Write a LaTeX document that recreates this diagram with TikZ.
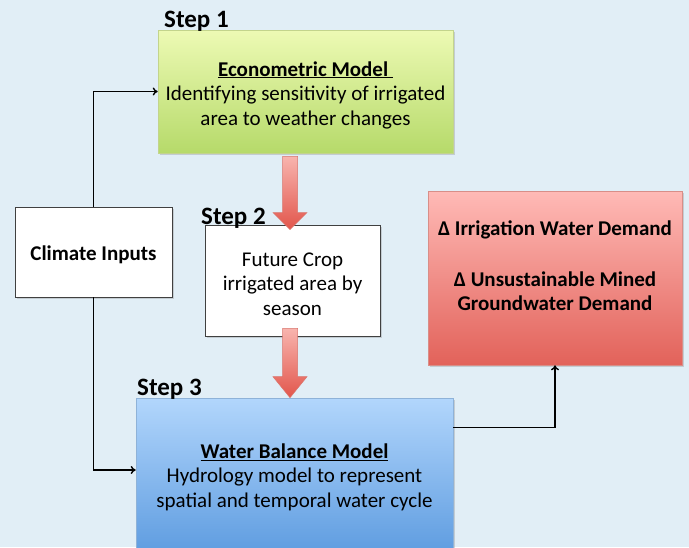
\documentclass[tikz,border=0pt]{standalone}
\usepackage{fontspec}
\setmainfont{Carlito}
\usetikzlibrary{calc,shadows,arrows.meta}
\definecolor{bg}{HTML}{E1EEF6}
\definecolor{greentop}{HTML}{EDFAB4}
\definecolor{greenbot}{HTML}{B6DA6A}
\definecolor{greenedge}{HTML}{C3D48C}
\definecolor{bluetop}{HTML}{B2D6FC}
\definecolor{bluebot}{HTML}{5E9CE0}
\definecolor{blueedge}{HTML}{8EB2D8}
\definecolor{redtop}{HTML}{FFBAB6}
\definecolor{redbot}{HTML}{E2625A}
\definecolor{rededge}{HTML}{D88E88}
\definecolor{arrtop}{HTML}{F8B4AE}
\definecolor{arrbot}{HTML}{E2564C}
\definecolor{arredge}{HTML}{D9756D}
\begin{document}
\begin{tikzpicture}[x=1pt,y=-1pt,
  shadowed/.style={drop shadow={shadow xshift=1.5pt,shadow yshift=-1.5pt,opacity=0.3}},
  txt/.style={inner sep=0pt, align=center, font=\fontsize{21}{24.5}\selectfont},
  box/.style={inner sep=0pt, shadowed},
  whitebox/.style={box, draw=black!75, line width=0.9pt, fill=white},
  greenbox/.style={box, draw=greenedge, line width=0.6pt, top color=greentop, bottom color=greenbot},
  bluebox/.style={box, draw=blueedge, line width=0.6pt, top color=bluetop, bottom color=bluebot},
  redbox/.style={box, draw=rededge, line width=0.6pt, top color=redtop, bottom color=redbot},
  steplabel/.style={anchor=base west, inner sep=0pt, font=\fontsize{25}{28}\selectfont\bfseries},
  conn/.style={line width=1.4pt, black, -{To[length=5pt,width=8pt]}},
  blockarr/.style={draw=arredge, line width=0.5pt, top color=arrtop, bottom color=arrbot}
]
\fill[bg] (0,0) rectangle (689,547);
\useasboundingbox (0,0) rectangle (689,547);

% boxes
\node[greenbox, minimum width=295pt, minimum height=123pt] (econ) at (305.5,91.5) {};
\node[txt] (econtxt) at (305.5,95)
  {\underline{\textbf{Econometric Model\ }}\\Identifying sensitivity of irrigated\\area to weather changes};
\node[whitebox, minimum width=157pt, minimum height=90pt] (clim) at (93.5,252) {};
\node[txt, font=\fontsize{21}{24.5}\selectfont\bfseries] (climtxt) at (93.5,255) {Climate Inputs};
\node[redbox, minimum width=254pt, minimum height=174pt] (dem) at (555,278) {};
\node[txt, font=\fontsize{21}{24.5}\selectfont\bfseries] (demtxt) at (555,266)
  {Δ Irrigation Water Demand\\[26pt]Δ Unsustainable Mined\\Groundwater Demand};
\node[bluebox, minimum width=317pt, minimum height=156pt] (water) at (294.5,476) {};
\node[txt] (watertxt) at (294.5,477)
  {\underline{\textbf{Water Balance Model}}\\Hydrology model to represent\\spatial and temporal water cycle};
\node[whitebox, minimum width=175pt, minimum height=111pt] (crop) at (292.5,280.5) {};
\node[txt] (croptxt) at (292.5,284)
  {Future Crop\\irrigated area by\\season};

% step labels
\node[steplabel] (s1) at (164,27) {Step 1};
\node[steplabel] (s2) at (201,224) {Step 2};
\node[steplabel] (s3) at (137,395) {Step 3};

% block arrows
\path[blockarr] let \p1=(econ.south), \p2=(crop.north),
    \n1={\x2-2.5pt}, \n2={\y1-3pt}, \n3={\y2-5pt}, \n4={\y2+12pt} in
  (\n1-7.5pt,\n2) -- (\n1+7.5pt,\n2) -- (\n1+7.5pt,\n4) -- (\n1+17pt,\n4)
  -- (\n1,\n3) -- (\n1-17pt,\n4) -- (\n1-7.5pt,\n4) -- cycle;
\path[blockarr] let \p1=(crop.south), \p2=(water.north),
    \n1={\x1-2.5pt}, \n2={\y1+8pt}, \n3={\y2}, \n4={\y2+21pt} in
  (\n1-7.5pt,\n2) -- (\n1+7.5pt,\n2) -- (\n1+7.5pt,\n4) -- (\n1+17pt,\n4)
  -- (\n1,\n3) -- (\n1-17pt,\n4) -- (\n1-7.5pt,\n4) -- cycle;

% connectors
\draw[conn] (clim.north) |- (econ.west);
\draw[conn] (clim.south) |- ($(water.west)+(0,-6)$);
\draw[conn] ($(water.north east)+(0,30)$) -| (dem.south);
\end{tikzpicture}
\end{document}
